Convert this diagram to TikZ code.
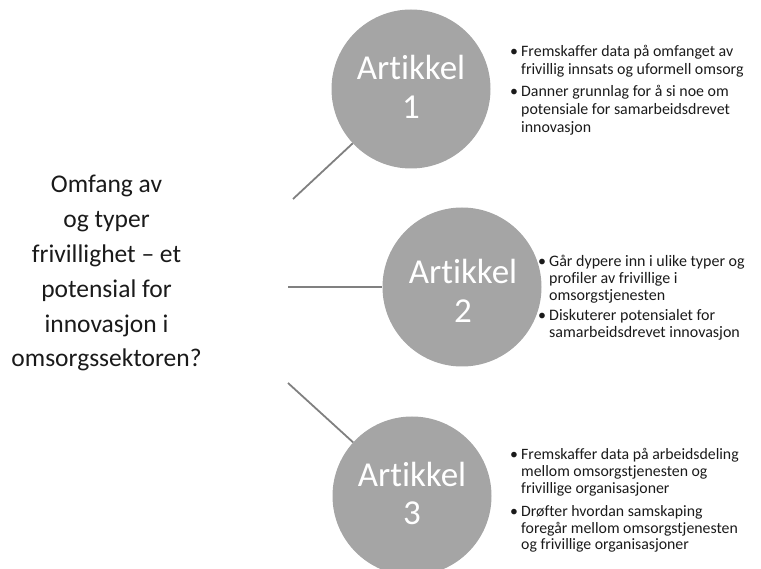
\documentclass[tikz,border=0pt]{standalone}
\usepackage{fontspec}
\setmainfont{Carlito}[Ligatures=NoCommon]
\definecolor{circfill}{HTML}{A5A5A5}
\definecolor{linegray}{HTML}{808080}
\definecolor{txt}{HTML}{1A1A1A}
\begin{document}
\begin{tikzpicture}[x=1pt,y=-1pt,
  artcircle/.style={circle,fill=circfill,draw=none,minimum size=159pt,inner sep=0pt},
  artlabel/.style={inner sep=0pt,anchor=base,text=white,font=\fontsize{35}{38.5}\selectfont},
  bullets/.style={inner sep=0pt,anchor=base west,text=txt},
  conn/.style={draw=linegray,line width=1.8pt},
  question/.style={inner sep=0pt,anchor=base,text=txt,font=\fontsize{25.5}{34.8}\selectfont}
]
\useasboundingbox (0,0) rectangle (761,569);
% circles
\node[artcircle] (c1) at (411,89) {};
\node[artcircle] (c2) at (462,287) {};
\node[artcircle] (c3) at (412,496) {};
\node[artlabel] (t1) at (411,80) {\begin{tabular}[t]{@{}c@{}}Artikkel\\1\end{tabular}};
\node[artlabel] (t2) at (463,284) {\begin{tabular}[t]{@{}c@{}}Artikkel\\2\end{tabular}};
\node[artlabel] (t3) at (412,486) {\begin{tabular}[t]{@{}c@{}}Artikkel\\3\end{tabular}};
% question
\node[question] (q) at (106.5,193) {\begin{tabular}[t]{@{}c@{}}Omfang av\\og typer\\frivillighet – et\\potensial for\\innovasjon i\\omsorgssektoren?\end{tabular}};
% connectors
\coordinate (e1) at (293,199);
\coordinate (e2) at (288,287);
\coordinate (e3) at (288,383);
\draw[conn] (e1) -- (c1);
\draw[conn] (e2) -- (c2);
\draw[conn] (e3) -- (c3);
% bullet lists
\node[bullets,font=\fontsize{15.9}{17.8}\selectfont] (b1) at (510,57) {\begin{tabular}[t]{@{}p{11pt}@{}l@{}}
\textbullet & Fremskaffer data på omfanget av\\
 & frivillig innsats og uformell omsorg\\[4pt]
\textbullet & Danner grunnlag for å si noe om\\
 & potensiale for samarbeidsdrevet\\
 & innovasjon\end{tabular}};
\node[bullets,font=\fontsize{16}{17}\selectfont] (b2) at (538,267) {\begin{tabular}[t]{@{}p{11pt}@{}l@{}}
\textbullet & Går dypere inn i ulike typer og\\
 & profiler av frivillige i\\
 & omsorgstjenesten\\[3pt]
\textbullet & Diskuterer potensialet for\\
 & samarbeidsdrevet innovasjon\end{tabular}};
\node[bullets,font=\fontsize{15.8}{16.6}\selectfont] (b3) at (510,460) {\begin{tabular}[t]{@{}p{11pt}@{}l@{}}
\textbullet & Fremskaffer data på arbeidsdeling\\
 & mellom omsorgstjenesten og\\
 & frivillige organisasjoner\\[7pt]
\textbullet & Drøfter hvordan samskaping\\
 & foregår mellom omsorgstjenesten\\
 & og frivillige organisasjoner\end{tabular}};
\end{tikzpicture}
\end{document}
